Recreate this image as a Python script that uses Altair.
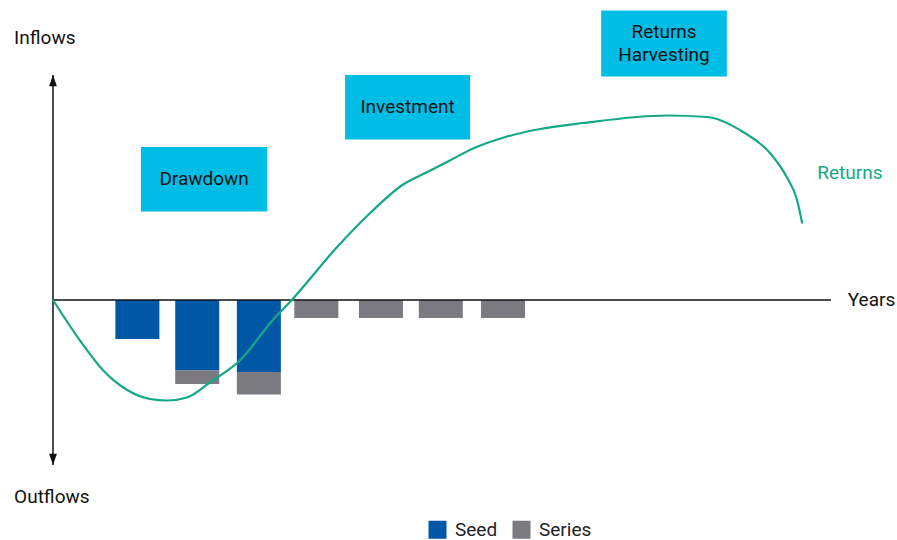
import altair as alt
import pandas as pd

# ---- data (x in years, y in relative flow units) ----
bar_years = [1.41, 2.41, 3.44, 4.40, 5.48, 6.48, 7.52]
seed_vals = [-26, -47, -48, 0, 0, 0, 0]
series_vals = [0, -9, -15, -12, -12, -12, -12]

curve_x = [0.0, 0.45, 0.84, 1.24, 1.62, 1.91, 2.24, 2.62, 3.13, 3.68, 3.99,
           4.74, 5.30, 5.85, 6.24, 6.63, 7.02, 7.59, 8.14, 8.86, 10.26, 10.93,
           11.53, 11.98, 12.26, 12.43, 12.52]
curve_y = [0, -27, -47, -60, -66, -67, -65, -55, -40, -13, 0,
           35, 58, 77, 85, 93, 101, 109, 114, 118, 123, 122,
           112, 98, 82, 67, 51]

phase_labels = ["Drawdown", "Investment", "Returns\nHarvesting"]
phase_x1 = [1.47, 4.88, 9.16]
phase_x2 = [3.58, 6.97, 11.26]
phase_y1 = [102, 150, 193]
phase_y2 = [59, 107, 149]

BLUE = "#0057A6"
GRAY = "#7B7A80"
GREEN = "#14A886"
CYAN = "#00BDE6"
FONT = "Roboto"
LINE_H = 23
PX_PER_UNIT_Y = 1.5

xs = alt.Scale(domain=[0, 13], nice=False, zero=False, padding=0)
ys = alt.Scale(domain=[-110, 150], nice=False, zero=False, padding=0)

# bars table
rows = []
for yr, s, r in zip(bar_years, seed_vals, series_vals):
    if s != 0:
        rows.append({"year": yr, "kind": "Seed", "top": 0, "bottom": s})
    if r != 0:
        rows.append({"year": yr, "kind": "Series", "top": s, "bottom": s + r})
bars_df = pd.DataFrame(rows)

curve_df = pd.DataFrame({"year": curve_x, "flow": curve_y})
phase_df = pd.DataFrame({"label": phase_labels, "x1": phase_x1, "x2": phase_x2,
                         "y1": phase_y1, "y2": phase_y2})
phase_df["xc"] = (phase_df.x1 + phase_df.x2) / 2
nlines = phase_df.label.str.count("\n")
phase_df["yc"] = (phase_df.y1 + phase_df.y2) / 2 + nlines * LINE_H / 2 / PX_PER_UNIT_Y

bars = alt.Chart(bars_df).mark_bar(width=44).encode(
    x=alt.X("year:Q", scale=xs, axis=None),
    y=alt.Y("top:Q", scale=ys, axis=None),
    y2="bottom:Q",
    color=alt.Color("kind:N",
                    scale=alt.Scale(domain=["Seed", "Series"], range=[BLUE, GRAY]),
                    legend=alt.Legend(title=None, orient="none", legendX=375, legendY=445,
                                      direction="horizontal", symbolType="square",
                                      symbolSize=324, symbolStrokeWidth=0,
                                      labelFontSize=19, labelFont=FONT, labelColor="#222222",
                                      columnPadding=14, labelOffset=8)),
)

axis_df = pd.DataFrame({"x0": [0, 0], "x1": [13, 0], "y0": [0, -110], "y1": [0, 150]})
axes = alt.Chart(axis_df).mark_rule(color="#111111", strokeWidth=1.5).encode(
    x=alt.X("x0:Q", scale=xs, axis=None), x2="x1:Q",
    y=alt.Y("y0:Q", scale=ys, axis=None), y2="y1:Q",
)

arrow_df = pd.DataFrame({"x": [0, 0], "y": [150, -110], "dir": ["up", "down"]})
arrow_up = alt.Chart(arrow_df[arrow_df.dir == "up"]).mark_point(
    shape="M0,0L-0.35,1L0.35,1Z", filled=True, color="#111111", size=500, opacity=1
).encode(x=alt.X("x:Q", scale=xs, axis=None), y=alt.Y("y:Q", scale=ys, axis=None))
arrow_down = alt.Chart(arrow_df[arrow_df.dir == "down"]).mark_point(
    shape="M0,0L-0.35,-1L0.35,-1Z", filled=True, color="#111111", size=500, opacity=1
).encode(x=alt.X("x:Q", scale=xs, axis=None), y=alt.Y("y:Q", scale=ys, axis=None))

curve = alt.Chart(curve_df).mark_line(color=GREEN, strokeWidth=2.2,
                                      interpolate="monotone").encode(
    x=alt.X("year:Q", scale=xs, axis=None),
    y=alt.Y("flow:Q", scale=ys, axis=None),
)

boxes = alt.Chart(phase_df).mark_rect(color=CYAN, opacity=1).encode(
    x=alt.X("x1:Q", scale=xs, axis=None), x2="x2:Q",
    y=alt.Y("y1:Q", scale=ys, axis=None), y2="y2:Q",
)
box_text = alt.Chart(phase_df).mark_text(font=FONT, fontSize=19, color="#111111",
                                         lineBreak="\n", lineHeight=LINE_H,
                                         align="center", baseline="middle").encode(
    x=alt.X("xc:Q", scale=xs, axis=None),
    y=alt.Y("yc:Q", scale=ys, axis=None),
    text="label:N",
)

lab_df = pd.DataFrame({
    "label": ["Inflows", "Outflows", "Years"],
    "x": [-0.65, -0.65, 13.28],
    "y": [175, -131, 0],
})
labels = alt.Chart(lab_df).mark_text(font=FONT, fontSize=19, color="#111111",
                                     align="left", baseline="middle").encode(
    x=alt.X("x:Q", scale=xs, axis=None),
    y=alt.Y("y:Q", scale=ys, axis=None),
    text="label:N",
)
ret_df = pd.DataFrame({"label": ["Returns"], "x": [12.77], "y": [85]})
ret_label = alt.Chart(ret_df).mark_text(font=FONT, fontSize=19, color=GREEN,
                                        align="left", baseline="middle").encode(
    x=alt.X("x:Q", scale=xs, axis=None),
    y=alt.Y("y:Q", scale=ys, axis=None),
    text="label:N",
)

chart = alt.layer(boxes, box_text, bars, axes, arrow_up, arrow_down, curve,
                  labels, ret_label).properties(
    width=778, height=390,
    background="white",
    autosize=alt.AutoSizeParams(type="none"),
    padding={"left": 53, "top": 75, "right": 66, "bottom": 75},
).configure_view(strokeWidth=0, stroke="transparent")

chart.save("out.html", embed_options={"renderer": "svg", "actions": False})
